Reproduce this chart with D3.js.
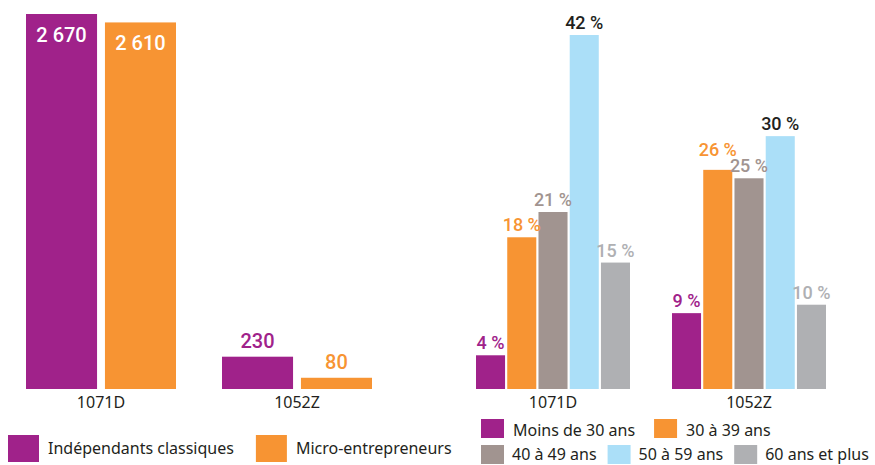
<!DOCTYPE html>
<html>
<head>
<meta charset="utf-8">
<style>
  body { margin: 0; background: #fff; }
  svg { display: block; }
  text { font-family: "Noto Sans", sans-serif; }
  .val { font-family: Roboto, sans-serif; font-weight: 500; }
</style>
</head>
<body>
<div class="graph"></div>
<script src="https://cdn.jsdelivr.net/npm/d3@7"></script>
<script>
    // left chart: number of enterprises
    var categories = ['1071D', '1052Z']
    var statuts = ['Indépendants classiques', 'Micro-entrepreneurs']
    var classiques = [2670, 230]
    var micro = [2610, 80]
    var countLabels = [['2 670', '2 610'], ['230', '80']]

    // right chart: age breakdown (%)
    var ages = ['Moins de 30 ans', '30 à 39 ans', '40 à 49 ans', '50 à 59 ans', '60 ans et plus']
    var ages1071D = [4, 18, 21, 42, 15]
    var ages1052Z = [9, 26, 25, 30, 10]

    var statutColors = ['#a0228a', '#f79433']
    var ageColors = ['#a0228a', '#f79433', '#a19490', '#abdff8', '#afb0b3']
    var ageLabelColors = ['#a0228a', '#f79433', '#a19490', '#231f20', '#afb0b3']

    var width = 875,
        height = 465,
        baseline = 389

    var svg = d3.select('.graph').append('svg')
        .attr('width', width)
        .attr('height', height)

    // ---------- left chart ----------
    var countRows = categories.map(function (c, i) {
        return { cat: c, values: [classiques[i], micro[i]], labels: countLabels[i] }
    })

    var xL = d3.scaleBand().domain(categories).range([3, 395])
    var xL1 = d3.scaleBand().domain([0, 1]).range([0, 150]).paddingInner(0.1)
    var yL = d3.scaleLinear().domain([0, 2670]).range([baseline, 14])

    var gL = svg.append('g')

    var groupsL = gL.selectAll('.grp').data(countRows).enter().append('g')
        .attr('transform', function (d) { return 'translate(' + (xL(d.cat) + (xL.bandwidth() - 150) / 2) + ',0)' })

    groupsL.selectAll('rect').data(function (d) { return d.values }).enter().append('rect')
        .attr('x', function (d, i) { return xL1(i) })
        .attr('y', function (d) { return yL(d) })
        .attr('width', xL1.bandwidth())
        .attr('height', function (d) { return baseline - yL(d) })
        .style('fill', function (d, i) { return statutColors[i] })

    groupsL.selectAll('text').data(function (d) {
        return d.values.map(function (v, i) { return { v: v, i: i, label: d.labels[i] } })
    }).enter().append('text')
        .attr('class', 'val')
        .attr('text-anchor', 'middle')
        .attr('font-size', 20)
        .attr('x', function (d) { return xL1(d.i) + xL1.bandwidth() / 2 })
        .attr('y', function (d) {
            var inside = baseline - yL(d.v) > 40
            return inside ? yL(d.v) + 28 : yL(d.v) - 9
        })
        .style('fill', function (d) { return baseline - yL(d.v) > 40 ? '#fff' : statutColors[d.i] })
        .text(function (d) { return d.label })

    gL.append('g')
        .attr('transform', 'translate(0,' + baseline + ')')
        .call(d3.axisBottom(xL).tickSize(0).tickPadding(8))
        .call(function (g) {
            g.select('.domain').remove()
            g.selectAll('text').attr('font-size', 16).style('fill', '#231f20')
                .attr('font-family', '"Noto Sans", sans-serif')
        })

    // ---------- right chart ----------
    var ageRows = [
        { cat: '1071D', values: ages1071D },
        { cat: '1052Z', values: ages1052Z }
    ]

    var xR = d3.scaleBand().domain(categories).range([455, 847])
    var xR1 = d3.scaleBand().domain(d3.range(ages.length)).range([0, 154]).paddingInner(0.07)
    var yR = d3.scaleLinear().domain([0, 42]).range([baseline, 35])

    var gR = svg.append('g')

    var groupsR = gR.selectAll('.grp').data(ageRows).enter().append('g')
        .attr('transform', function (d) { return 'translate(' + (xR(d.cat) + (xR.bandwidth() - 154) / 2) + ',0)' })

    groupsR.selectAll('rect').data(function (d) { return d.values }).enter().append('rect')
        .attr('x', function (d, i) { return xR1(i) })
        .attr('y', function (d) { return yR(d) })
        .attr('width', xR1.bandwidth())
        .attr('height', function (d) { return baseline - yR(d) })
        .style('fill', function (d, i) { return ageColors[i] })

    groupsR.each(function (row) {
        // label positions, lifting one when neighbours collide
        var ys = row.values.map(function (v) { return yR(v) - 6 })
        for (var i = 0; i < ys.length - 1; i++) {
            var diff = Math.abs(ys[i] - ys[i + 1])
            if (diff < 16) {
                if (ys[i] < ys[i + 1]) ys[i] -= 16 - diff
                else ys[i + 1] -= 16 - diff
            }
        }
        d3.select(this).selectAll('text').data(row.values).enter().append('text')
            .attr('class', 'val')
            .attr('text-anchor', 'middle')
            .attr('font-size', 18)
            .attr('x', function (d, i) { return xR1(i) + xR1.bandwidth() / 2 })
            .attr('y', function (d, i) { return ys[i] })
            .style('fill', function (d, i) { return ageLabelColors[i] })
            .text(function (d) { return d + ' %' })
    })

    gR.append('g')
        .attr('transform', 'translate(0,' + baseline + ')')
        .call(d3.axisBottom(xR).tickSize(0).tickPadding(8))
        .call(function (g) {
            g.select('.domain').remove()
            g.selectAll('text').attr('font-size', 16).style('fill', '#231f20')
                .attr('font-family', '"Noto Sans", sans-serif')
        })

    // ---------- legends ----------
    function legendRow(items, x, y, sw, sh, gap, spacing, fontSize, dy) {
        var cx = x
        items.forEach(function (it) {
            svg.append('rect')
                .attr('x', cx).attr('y', y)
                .attr('width', sw).attr('height', sh)
                .style('fill', it.color)
            var t = svg.append('text')
                .attr('x', cx + sw + gap)
                .attr('y', y + dy)
                .attr('font-size', fontSize)
                .style('fill', '#231f20')
                .text(it.name)
            cx += sw + gap + t.node().getComputedTextLength() + spacing
        })
    }

    legendRow(statuts.map(function (s, i) { return { name: s, color: statutColors[i] } }),
        8, 435, 31, 27, 9, 22, 16, 19)

    var ageItems = ages.map(function (a, i) { return { name: a, color: ageColors[i] } })
    legendRow(ageItems.slice(0, 2), 481, 419, 23, 19, 9, 19, 16, 17)
    legendRow(ageItems.slice(2), 481, 445, 23, 19, 8, 11, 16, 15)
</script>
</body>
</html>
